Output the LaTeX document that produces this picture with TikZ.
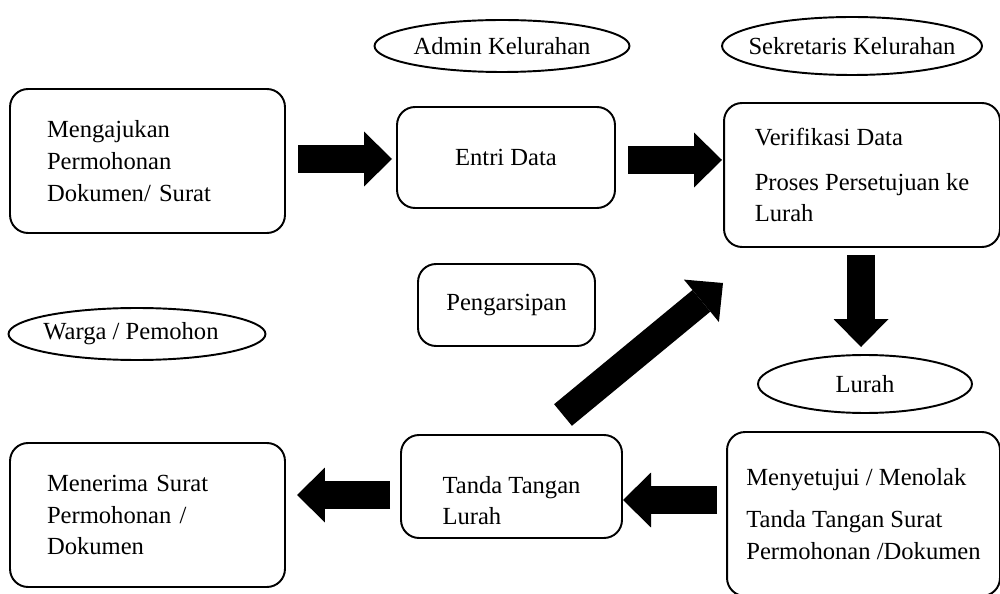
\documentclass[tikz,border=0pt]{standalone}
\usepackage{fontspec}
\setmainfont{Liberation Serif}
\usepackage{tikz}
\usetikzlibrary{positioning}
\usetikzlibrary{shapes.geometric}
\usetikzlibrary{arrows.meta}

\begin{document}
\begin{tikzpicture}[x=0.02cm,y=-0.02cm,
    every node/.style={font=\fontsize{14pt}{18pt}\selectfont},
    stepbox/.style={draw,line width=1.1pt,rounded corners=0.36cm,inner sep=0pt},
    role/.style={shape=ellipse,draw,line width=1.1pt,inner sep=0pt},
    bigarrow/.style={line width=0.56cm,-{Triangle[length=0.56cm,width=1.1cm,line width=0pt]}}]

    \useasboundingbox (0,0) rectangle (1000,594);

    % roles (text may run up to the outline)
    \node[role,minimum width=5.1cm,minimum height=1.04cm] (admin) at (502,46) {\makebox[0pt]{Admin Kelurahan}};
    \node[role,minimum width=5.2cm,minimum height=1.16cm] (sekretaris) at (852,46) {\makebox[0pt]{Sekretaris Kelurahan}};
    \node[role,minimum width=5.14cm,minimum height=1.04cm] (warga) at (137,334) {\makebox[0pt]{Warga / Pemohon\hspace{0.24cm}}};
    \node[role,minimum width=4.28cm,minimum height=1.16cm] (lurah) at (865,384) {\makebox[0pt]{Lurah}};

    % setup the steps
    \node[stepbox,minimum width=5.5cm,minimum height=2.88cm,text width=4.02cm,align=left] (mohon) at (147.5,161)
        {Mengajukan\\Permohonan\\Dokumen/ Surat};
    \node[stepbox,minimum width=4.36cm,minimum height=2.02cm] (entri) at (506,157.5) {Entri Data};
    \node[stepbox,minimum width=5.52cm,minimum height=2.88cm,align=left] (verif) at (862,175)
        {Verifikasi Data\\[0.26cm]Proses Persetujuan ke\\Lurah};
    \node[stepbox,minimum width=3.54cm,minimum height=1.64cm] (arsip) at (506.5,305) {Pengarsipan};
    \node[stepbox,minimum width=4.42cm,minimum height=2.06cm,align=left] (ttd) at (511.5,486.5)
        {\rule{0pt}{0.9cm}Tanda Tangan\\Lurah};
    \node[stepbox,minimum width=5.5cm,minimum height=2.88cm,text width=4.02cm,align=left] (terima) at (147.5,515)
        {Menerima Surat\\Permohonan /\\Dokumen};
    \node[stepbox,minimum width=5.46cm,minimum height=3.28cm,align=left] (setuju) at (863.5,514)
        {Menyetujui / Menolak\\[0.22cm]Tanda Tangan Surat\\Permohonan /Dokumen};

    % arrow ends
    \coordinate (a1) at (298,159);
    \coordinate (a2) at (392,159);
    \coordinate (b1) at (628,160);
    \coordinate (b2) at (722,160);
    \coordinate (c1) at (861,255);
    \coordinate (c2) at (861,347);
    \coordinate (d1) at (563,415);
    \coordinate (d2) at (723,283);
    \coordinate (e1) at (717,500);
    \coordinate (e2) at (623,500);
    \coordinate (f1) at (390,495);
    \coordinate (f2) at (297,495);

    \draw[bigarrow] (a1) -- (a2);% to Entri Data
    \draw[bigarrow] (b1) -- (b2);% to Verifikasi
    \draw[bigarrow] (c1) -- (c2);% down to Lurah
    \draw[bigarrow] (d1) -- (d2);% back up
    \draw[bigarrow] (e1) -- (e2);
    \draw[bigarrow] (f1) -- (f2);

\end{tikzpicture}
\end{document}
